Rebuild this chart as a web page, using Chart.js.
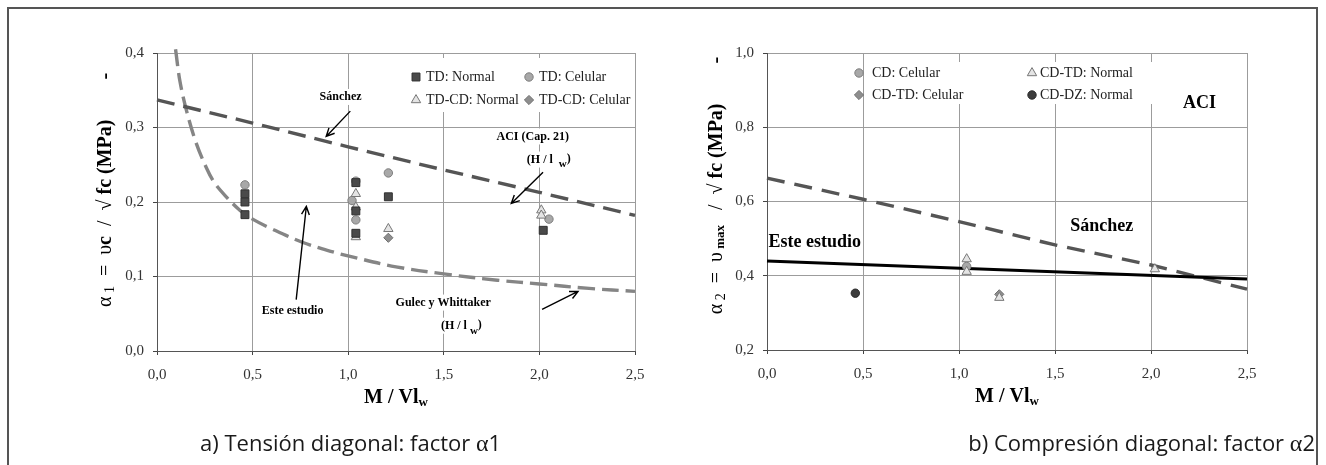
<!DOCTYPE html>
<html>
<head>
<meta charset="utf-8">
<script src="https://cdn.jsdelivr.net/npm/chart.js@4.4.0/dist/chart.umd.min.js"></script>
<style>
  html, body { margin: 0; padding: 0; background: #fff; overflow: hidden; }
  #frame { position: absolute; left: 7px; top: 7px; width: 1307px; height: 480px;
           border: 2px solid #555; border-bottom: none; }
  .box { position: absolute; top: 0; height: 465px; }
  .cap { position: absolute; top: 427px; font-family: 'Open Sans', sans-serif;
         font-size: 22px; color: #1a1a1a; white-space: nowrap; }
  .cap span { font-family: 'Liberation Serif', serif; font-size: 24px; }
</style>
</head>
<body>
<div id="frame"></div>
<div class="box" style="left:0;width:660px"><canvas id="chartA"></canvas></div>
<div class="box" style="left:660px;width:666px"><canvas id="chartB"></canvas></div>
<div class="cap" style="left:200px">a) Tensión diagonal: factor <span>α</span>1</div>
<div class="cap" style="right:11px">b) Compresión diagonal: factor <span>α</span>2</div>

<script>
// ---- a) diagonal tension, alpha1 ----
const tdNormalX    = [0.46, 0.46, 0.46, 1.04, 1.04, 1.04, 1.21, 2.02];
const tdNormalY    = [0.211, 0.200, 0.183, 0.226, 0.188, 0.158, 0.207, 0.162];
const tdCelularX   = [0.46, 1.04, 1.02, 1.04, 1.21, 2.05];
const tdCelularY   = [0.223, 0.228, 0.202, 0.176, 0.239, 0.177];
const tdcdNormalX  = [1.04, 1.04, 1.04, 1.21, 2.01, 2.01];
const tdcdNormalY  = [0.211, 0.193, 0.153, 0.164, 0.189, 0.182];
const tdcdCelularX = [1.21];
const tdcdCelularY = [0.152];

const sanchezAX = [0, 0.5, 1.0, 1.5, 2.0, 2.5];
const sanchezAY = [0.337, 0.306, 0.274, 0.243, 0.213, 0.182];
const gulecX = [0.097, 0.12, 0.155, 0.205, 0.26, 0.30, 0.355, 0.433, 0.50, 0.60, 0.76, 0.92, 1.01, 1.25, 1.50, 1.78, 2.0, 2.26, 2.5];
const gulecY = [0.405, 0.362, 0.322, 0.279, 0.245, 0.226, 0.209, 0.189, 0.177, 0.164, 0.146, 0.133, 0.127, 0.113, 0.1035, 0.095, 0.090, 0.084, 0.080];

// ---- b) diagonal compression, alpha2 ----
const cdCelularX   = [1.04];
const cdCelularY   = [0.425];
const cdtdCelularX = [1.21];
const cdtdCelularY = [0.350];
const cdtdNormalX  = [1.04, 1.04, 1.21, 2.02];
const cdtdNormalY  = [0.445, 0.411, 0.341, 0.418];
const cddzNormalX  = [0.46];
const cddzNormalY  = [0.353];

const estudioBX = [0, 2.5];
const estudioBY = [0.440, 0.391];
const sanchezBX = [0, 0.5, 1.0, 1.5, 2.0, 2.5];
const sanchezBY = [0.663, 0.606, 0.546, 0.483, 0.429, 0.364];

const xTickLabels  = ['0,0', '0,5', '1,0', '1,5', '2,0', '2,5'];
const yTickLabelsA = ['0,0', '0,1', '0,2', '0,3', '0,4'];
const yTickLabelsB = ['0,2', '0,4', '0,6', '0,8', '1,0'];

const SERIF = "'Liberation Serif', serif";

function pts(xs, ys) {
    return xs.map((x, i) => ({ x: x, y: ys[i] }));
}

// marker styles shared by datasets and the hand drawn legend
const mkSquare   = { pointStyle: 'rect',     pointRadius: 5.6, backgroundColor: '#4a4a4a', borderColor: '#303030', borderWidth: 1 };
const mkCircle   = { pointStyle: 'circle',   pointRadius: 4.2, backgroundColor: '#a8a8a8', borderColor: '#7e7e7e', borderWidth: 1 };
const mkTriangle = { pointStyle: 'triangle', pointRadius: 5.4, backgroundColor: '#e4e4e4', borderColor: '#777',    borderWidth: 1 };
const mkDiamond  = { pointStyle: 'rectRot',  pointRadius: 4.6, backgroundColor: '#8e8e8e', borderColor: '#6e6e6e', borderWidth: 1 };
const mkDark     = { pointStyle: 'circle',   pointRadius: 4.2, backgroundColor: '#3c3c3c', borderColor: '#2a2a2a', borderWidth: 1 };

function drawMarker(ctx, mk, x, y) {
    const r = mk.pointRadius;
    ctx.save();
    ctx.fillStyle = mk.backgroundColor;
    ctx.strokeStyle = mk.borderColor;
    ctx.lineWidth = mk.borderWidth;
    ctx.beginPath();
    if (mk.pointStyle === 'circle') {
        ctx.arc(x, y, r, 0, Math.PI * 2);
    } else if (mk.pointStyle === 'rect') {
        const s = r * Math.SQRT1_2;
        ctx.rect(x - s, y - s, 2 * s, 2 * s);
    } else if (mk.pointStyle === 'rectRot') {
        ctx.moveTo(x, y - r); ctx.lineTo(x + r, y); ctx.lineTo(x, y + r); ctx.lineTo(x - r, y);
        ctx.closePath();
    } else {
        ctx.moveTo(x, y - r); ctx.lineTo(x + 0.866 * r, y + 0.5 * r); ctx.lineTo(x - 0.866 * r, y + 0.5 * r);
        ctx.closePath();
    }
    ctx.fill();
    ctx.stroke();
    ctx.restore();
}

function fontOf(r) {
    return (r.b ? 'bold ' : '') + r.s + 'px ' + SERIF;
}

function runsWidth(ctx, runs) {
    let w = 0;
    runs.forEach(r => { ctx.font = fontOf(r); w += ctx.measureText(r.t).width; });
    return w;
}

// draws mixed-size text centred on (x, y)
function drawRuns(ctx, runs, x, y, color) {
    const w = runsWidth(ctx, runs);
    let cx = x - w / 2;
    ctx.fillStyle = color || '#000';
    ctx.textAlign = 'left';
    ctx.textBaseline = 'middle';
    runs.forEach(r => {
        ctx.font = fontOf(r);
        ctx.fillText(r.t, cx, y + (r.dy || 0));
        cx += ctx.measureText(r.t).width;
    });
    return w;
}

const notesPlugin = {
    id: 'notes',
    beforeDatasetsDraw(chart, args, opts) {
        const ctx = chart.ctx, a = chart.chartArea;
        const sx = chart.scales.x, sy = chart.scales.y;
        ctx.save();
        // legend box over the grid
        const lg = opts.legend;
        ctx.fillStyle = '#fff';
        ctx.fillRect(a.left + lg.box[0], a.top + lg.box[1], lg.box[2], lg.box[3]);
        lg.items.forEach(it => {
            const mx = a.left + lg.cols[it.col][0], tx = a.left + lg.cols[it.col][1];
            const yy = a.top + lg.rows[it.row];
            drawMarker(ctx, it.mk, mx, yy);
            ctx.font = lg.size + 'px ' + SERIF;
            ctx.fillStyle = '#222';
            ctx.textAlign = 'left';
            ctx.textBaseline = 'middle';
            ctx.fillText(it.text, tx, yy);
        });
        // text labels
        opts.labels.forEach(lb => {
            const px = sx.getPixelForValue(lb.x), py = sy.getPixelForValue(lb.y);
            const w = runsWidth(ctx, lb.runs);
            if (lb.bg) {
                const h = lb.runs[0].s + 4;
                ctx.fillStyle = '#fff';
                ctx.fillRect(px - w / 2 - 3, py - h / 2, w + 6, h);
            }
            drawRuns(ctx, lb.runs, px, py, '#000');
        });
        ctx.restore();
    },
    afterDatasetsDraw(chart, args, opts) {
        const ctx = chart.ctx;
        const sx = chart.scales.x, sy = chart.scales.y;
        ctx.save();
        ctx.strokeStyle = '#000';
        ctx.lineWidth = 1.4;
        opts.arrows.forEach(ar => {
            const x0 = sx.getPixelForValue(ar.from[0]), y0 = sy.getPixelForValue(ar.from[1]);
            const x1 = sx.getPixelForValue(ar.to[0]),   y1 = sy.getPixelForValue(ar.to[1]);
            const ang = Math.atan2(y1 - y0, x1 - x0), L = 9, spread = 0.45;
            ctx.beginPath();
            ctx.moveTo(x0, y0); ctx.lineTo(x1, y1);
            ctx.moveTo(x1 - L * Math.cos(ang - spread), y1 - L * Math.sin(ang - spread));
            ctx.lineTo(x1, y1);
            ctx.lineTo(x1 - L * Math.cos(ang + spread), y1 - L * Math.sin(ang + spread));
            ctx.stroke();
        });
        ctx.restore();
    },
    afterDraw(chart, args, opts) {
        const ctx = chart.ctx, a = chart.chartArea;
        ctx.save();
        // y axis title, rotated
        ctx.translate(a.left + opts.yTitle.dx, (a.top + a.bottom) / 2 + opts.yTitle.dy);
        ctx.rotate(-Math.PI / 2);
        drawRuns(ctx, opts.yTitle.runs, 0, 0, '#000');
        ctx.restore();
        ctx.save();
        drawRuns(ctx, opts.xTitle, (a.left + a.right) / 2, a.bottom + 47, '#000');
        ctx.restore();
    }
};

const xTitleRuns = [
    { t: 'M / Vl', s: 20, b: true },
    { t: 'w', s: 13, b: true, dy: 5 }
];

function scatterSet(label, xs, ys, mk) {
    return Object.assign({ label: label, data: pts(xs, ys), showLine: false, pointHoverRadius: mk.pointRadius }, mk);
}

function lineSet(label, xs, ys, color, width, dash, smooth) {
    return {
        label: label, data: pts(xs, ys), showLine: true, pointRadius: 0,
        borderColor: color, borderWidth: width, borderDash: dash,
        tension: smooth ? 0.35 : 0,
        clip: 6
    };
}

function makeOptions(pad, yMin, yMax, yStep, yLabels, notes) {
    return {
        responsive: true,
        maintainAspectRatio: false,
        animation: false,
        events: [],
        layout: { padding: pad },
        scales: {
            x: {
                type: 'linear', min: 0, max: 2.5,
                afterFit: s => { s.height = 40; },
                ticks: {
                    stepSize: 0.5, padding: 11, color: '#333',
                    font: { family: SERIF, size: 15 },
                    callback: (v, i) => xTickLabels[i]
                },
                grid: { color: '#9c9c9c', lineWidth: 1, tickLength: 4, tickColor: '#444' },
                border: { color: '#555', width: 1 }
            },
            y: {
                type: 'linear', min: yMin, max: yMax,
                afterFit: s => { s.width = 60; },
                ticks: {
                    stepSize: yStep, padding: 9, color: '#333',
                    font: { family: SERIF, size: 15 },
                    callback: (v, i) => yLabels[i]
                },
                grid: { color: '#9c9c9c', lineWidth: 1, tickLength: 4, tickColor: '#444' },
                border: { color: '#555', width: 1 }
            }
        },
        plugins: {
            legend: { display: false },
            tooltip: { enabled: false },
            notes: notes
        }
    };
}

// ---------- chart a ----------
new Chart(document.getElementById('chartA'), {
    type: 'scatter',
    plugins: [notesPlugin],
    data: {
        datasets: [
            scatterSet('TD: Normal', tdNormalX, tdNormalY, mkSquare),
            scatterSet('TD-CD: Normal', tdcdNormalX, tdcdNormalY, mkTriangle),
            scatterSet('TD: Celular', tdCelularX, tdCelularY, mkCircle),
            scatterSet('TD-CD: Celular', tdcdCelularX, tdcdCelularY, mkDiamond),
            lineSet('Sánchez', sanchezAX, sanchezAY, '#555', 3.4, [18, 9], false),
            lineSet('Gulec y Whittaker', gulecX, gulecY, '#858585', 3.4, [17, 7], true)
        ]
    },
    options: makeOptions({ left: 97, right: 25, top: 53, bottom: 74 }, 0, 0.4, 0.1, yTickLabelsA, {
        legend: {
            size: 14,
            box: [253, 5, 224, 54],
            cols: [[259, 269], [372, 382]],
            rows: [24, 47],
            items: [
                { text: 'TD: Normal', mk: mkSquare, col: 0, row: 0 },
                { text: 'TD: Celular', mk: mkCircle, col: 1, row: 0 },
                { text: 'TD-CD: Normal', mk: mkTriangle, col: 0, row: 1 },
                { text: 'TD-CD: Celular', mk: mkDiamond, col: 1, row: 1 }
            ]
        },
        labels: [
            { x: 0.96, y: 0.341, bg: true, runs: [{ t: 'Sánchez', s: 12, b: true }] },
            { x: 1.965, y: 0.288, bg: true, runs: [{ t: 'ACI (Cap. 21)', s: 12, b: true }] },
            { x: 2.049, y: 0.257, bg: true, runs: [{ t: '(H / l', s: 12, b: true }, { t: '  ', s: 12 }, { t: 'w', s: 11, b: true, dy: 5 }, { t: ')', s: 12, b: true, dy: -1 }] },
            { x: 0.709, y: 0.054, bg: true, runs: [{ t: 'Este estudio', s: 12, b: true }] },
            { x: 1.497, y: 0.065, bg: true, runs: [{ t: 'Gulec y Whittaker', s: 12, b: true }] },
            { x: 1.592, y: 0.034, bg: true, runs: [{ t: '(H / l', s: 12, b: true }, { t: ' ', s: 12 }, { t: 'w', s: 11, b: true, dy: 5 }, { t: ')', s: 12, b: true, dy: -1 }] }
        ],
        arrows: [
            { from: [1.011, 0.322], to: [0.885, 0.288] },
            { from: [2.019, 0.240], to: [1.853, 0.198] },
            { from: [0.728, 0.069], to: [0.781, 0.194] },
            { from: [2.014, 0.056], to: [2.202, 0.080] }
        ],
        yTitle: {
            dx: -51, dy: -12,
            runs: [
                { t: 'α', s: 20 }, { t: ' 1', s: 14, dy: 4 }, { t: '  =  ', s: 20 },
                { t: 'υ', s: 20 }, { t: 'c', s: 20, b: true }, { t: '  /  ', s: 20 },
                { t: '√', s: 20 }, { t: ' fc (MPa)', s: 20, b: true }, { t: '        -', s: 20, b: true }
            ]
        },
        xTitle: xTitleRuns
    })
});

// ---------- chart b ----------
new Chart(document.getElementById('chartB'), {
    type: 'scatter',
    plugins: [notesPlugin],
    data: {
        datasets: [
            scatterSet('CD-TD: Normal', cdtdNormalX, cdtdNormalY, mkTriangle),
            scatterSet('CD: Celular', cdCelularX, cdCelularY, mkCircle),
            scatterSet('CD-TD: Celular', cdtdCelularX, cdtdCelularY, mkDiamond),
            scatterSet('CD-DZ: Normal', cddzNormalX, cddzNormalY, mkDark),
            lineSet('Este estudio', estudioBX, estudioBY, '#000', 3, [], false),
            lineSet('Sánchez', sanchezBX, sanchezBY, '#555', 3.4, [18, 10], false)
        ]
    },
    options: makeOptions({ left: 47, right: 79, top: 53, bottom: 75 }, 0.2, 1.0, 0.2, yTickLabelsB, {
        legend: {
            size: 14,
            box: [99, 9, 294, 42],
            cols: [[92, 105], [265, 273]],
            rows: [20, 42],
            items: [
                { text: 'CD: Celular', mk: mkCircle, col: 0, row: 0 },
                { text: 'CD-TD: Normal', mk: mkTriangle, col: 1, row: 0 },
                { text: 'CD-TD: Celular', mk: mkDiamond, col: 0, row: 1 },
                { text: 'CD-DZ: Normal', mk: mkDark, col: 1, row: 1 }
            ]
        },
        labels: [
            { x: 2.253, y: 0.865, bg: false, runs: [{ t: 'ACI', s: 18, b: true }] },
            { x: 1.743, y: 0.532, bg: false, runs: [{ t: 'Sánchez', s: 18, b: true }] },
            { x: 0.249, y: 0.490, bg: false, runs: [{ t: 'Este estudio', s: 18, b: true }] }
        ],
        arrows: [],
        yTitle: {
            dx: -50, dy: -16,
            runs: [
                { t: 'α', s: 20 }, { t: ' 2', s: 14, dy: 4 }, { t: '  =  ', s: 20 },
                { t: 'υ', s: 20 }, { t: ' max', s: 13, b: true, dy: 4 }, { t: '   /  ', s: 20 },
                { t: '√', s: 20 }, { t: ' fc (MPa)', s: 20, b: true }, { t: '        -', s: 20, b: true }
            ]
        },
        xTitle: xTitleRuns
    })
});
</script>
</body>
</html>
